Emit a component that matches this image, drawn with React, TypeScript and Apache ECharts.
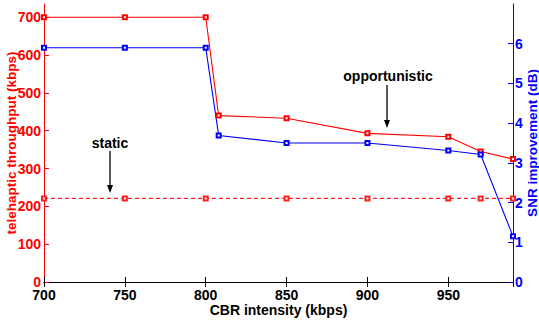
import React, { useEffect, useRef } from "react";
import * as echarts from "echarts";

const cbrOpp = [700, 750, 800, 808, 850, 900, 950, 970, 990];
const throughputOpp = [700, 700, 700, 440, 433, 393, 384, 345, 325];
const snrOpp = [5.9, 5.9, 5.9, 3.69, 3.5, 3.5, 3.31, 3.21, 1.15];
const cbrStatic = [700, 750, 800, 850, 900, 950, 970, 990];
const throughputStatic = [221, 221, 221, 221, 221, 221, 221, 221];

const FONT = "Liberation Sans";

export default function App() {
  const ref = useRef<HTMLDivElement>(null);
  useEffect(() => {
    const chart = echarts.init(ref.current!, null, { renderer: "svg" });
    const label = (color: string, size = 14) => ({
      color,
      fontFamily: FONT,
      fontWeight: "bold" as const,
      fontSize: size,
    });
    const arrow = (x: number, y1: number, y2: number) => [
      { type: "line", shape: { x1: x, y1, x2: x, y2: y2 - 6 }, style: { stroke: "#000", lineWidth: 1.3 } },
      { type: "polygon", shape: { points: [[x - 3, y2 - 8], [x + 3, y2 - 8], [x, y2]] }, style: { fill: "#000" } },
    ];
    chart.setOption({
      animation: false,
      grid: { left: 44, right: 26, top: 4, bottom: 43, containLabel: false, outerBoundsMode: "none" },
      xAxis: [
        {
          type: "value",
          min: 700,
          max: 990,
          interval: 50,
          name: "CBR intensity (kbps)",
          nameLocation: "middle",
          nameGap: 21,
          nameMoveOverlap: false,
          nameTextStyle: label("#000"),
          axisLine: { show: true, lineStyle: { color: "#000", width: 1 } },
          axisTick: { show: true, inside: true, length: 5, lineStyle: { color: "#000" } },
          axisLabel: { ...label("#000"), margin: 7, lineHeight: 12, showMaxLabel: false },
          splitLine: { show: false },
        },
        {
          type: "value",
          position: "top",
          min: 700,
          max: 990,
          interval: 50,
          axisLine: { show: true, lineStyle: { color: "#000", width: 1 } },
          axisTick: { show: true, inside: true, length: 5, lineStyle: { color: "#000" } },
          axisLabel: { show: false },
          splitLine: { show: false },
        },
      ],
      yAxis: [
        {
          type: "value",
          min: 0,
          max: 735,
          interval: 100,
          name: "telehaptic throughput (kbps)",
          nameLocation: "middle",
          nameRotate: 90,
          nameGap: 26,
          nameMoveOverlap: false,
          nameTextStyle: label("#ff0000", 13.5),
          axisLine: { show: true, lineStyle: { color: "#ff0000", width: 1 } },
          axisTick: { show: true, inside: true, length: 5, lineStyle: { color: "#ff0000" } },
          axisLabel: { ...label("#ff0000"), margin: 3, lineHeight: 10, showMaxLabel: false },
          splitLine: { show: false },
        },
        {
          type: "value",
          min: 0,
          max: 7,
          interval: 1,
          position: "right",
          name: "SNR improvement (dB)",
          nameLocation: "middle",
          nameRotate: 90,
          nameGap: 12,
          nameMoveOverlap: false,
          nameTextStyle: label("#0000ff", 13.5),
          axisLine: { show: true, lineStyle: { color: "#0000ff", width: 1 } },
          axisTick: { show: true, inside: true, length: 5, lineStyle: { color: "#0000ff" } },
          axisLabel: { ...label("#0000ff"), margin: 2, lineHeight: 10, showMaxLabel: false },
          splitLine: { show: false },
        },
      ],
      series: [
        {
          type: "line",
          yAxisIndex: 0,
          data: cbrStatic.map((x, i) => [x, throughputStatic[i]]),
          symbol: "emptyRect",
          symbolSize: 4,
          lineStyle: { color: "#ff2020", width: 1.1, type: [4, 3] },
          itemStyle: { color: "#ff2020", borderWidth: 1 },
        },
        {
          type: "line",
          yAxisIndex: 0,
          data: cbrOpp.map((x, i) => [x, throughputOpp[i]]),
          symbol: "emptyRect",
          symbolSize: 4,
          lineStyle: { color: "#ff0000", width: 1.1 },
          itemStyle: { color: "#ff0000", borderWidth: 1 },
        },
        {
          type: "line",
          yAxisIndex: 1,
          data: cbrOpp.map((x, i) => [x, snrOpp[i]]),
          symbol: "emptyRect",
          symbolSize: 4,
          lineStyle: { color: "#0000ff", width: 1.1 },
          itemStyle: { color: "#0000ff", borderWidth: 1 },
        },
      ],
      graphic: [
        {
          type: "text",
          x: 110,
          y: 143,
          style: { text: "static", fill: "#000", font: `bold 14px "${FONT}"`, textAlign: "center", textVerticalAlign: "middle" },
        },
        ...arrow(110, 151, 193),
        {
          type: "text",
          x: 388,
          y: 76,
          style: { text: "opportunistic", fill: "#000", font: `bold 14px "${FONT}"`, textAlign: "center", textVerticalAlign: "middle" },
        },
        ...arrow(387, 85, 128),
      ],
    });
    return () => chart.dispose();
  }, []);
  return <div ref={ref} style={{ width: 539, height: 325, position: "absolute", left: 0, top: 0 }} />;
}
